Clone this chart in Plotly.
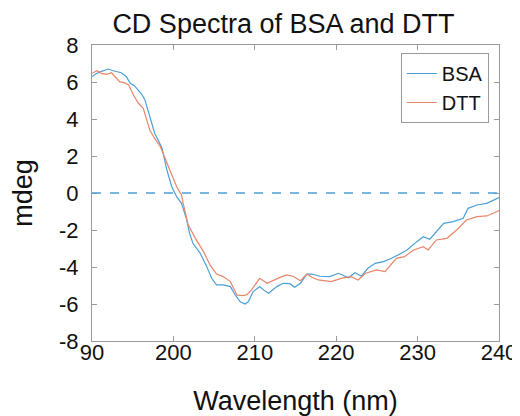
import plotly.graph_objects as go

bsa_wl = [190.0, 190.5, 191.0, 191.5, 192.0, 192.5, 193.0, 193.6, 194.2, 194.7, 195.2, 195.7,
          196.1, 196.5, 197.1, 197.7, 198.2, 198.6, 199.2, 199.8, 200.4, 201.0, 201.6, 202.0,
          202.4, 203.3, 204.1, 204.7, 205.3, 206.1, 207.0, 207.6, 208.2, 208.8, 209.2, 209.8,
          210.6, 211.1, 211.7, 212.2, 212.7, 213.5, 214.3, 214.9, 215.6, 216.4, 217.0, 218.0,
          219.2, 220.3, 221.5, 222.3, 223.1, 223.9, 224.8, 225.8, 226.6, 227.6, 228.7, 229.9,
          230.7, 231.5, 232.3, 233.2, 234.4, 235.6, 236.2, 237.3, 238.5, 239.7, 240.0]
bsa_mdeg = [6.29, 6.45, 6.55, 6.62, 6.70, 6.62, 6.58, 6.50, 6.30, 5.93, 5.80, 5.57,
            5.35, 5.03, 4.12, 3.23, 2.80, 2.42, 1.24, 0.34, -0.20, -0.56, -1.40, -2.20,
            -2.72, -3.26, -3.98, -4.61, -4.97, -4.97, -5.06, -5.51, -5.88, -6.00, -5.88, -5.33,
            -5.06, -5.25, -5.42, -5.25, -5.06, -4.88, -4.90, -5.10, -4.88, -4.38, -4.38, -4.50,
            -4.52, -4.34, -4.58, -4.31, -4.50, -4.07, -3.80, -3.71, -3.57, -3.35, -3.08, -2.63,
            -2.36, -2.50, -2.09, -1.64, -1.55, -1.37, -0.83, -0.65, -0.56, -0.29, -0.25]

dtt_wl = [190.0, 190.6, 191.2, 191.8, 192.4, 193.0, 193.4, 194.0, 194.5, 195.1, 195.7, 196.3,
          196.7, 197.1, 197.7, 198.4, 199.4, 200.4, 201.0, 201.2, 201.8, 202.7, 203.7, 204.5,
          205.3, 206.1, 207.0, 207.8, 208.4, 209.0, 209.6, 210.6, 211.5, 212.3, 213.1, 213.9,
          214.7, 215.6, 216.4, 217.0, 217.8, 219.4, 220.7, 221.8, 222.7, 223.6, 225.0, 226.0,
          227.4, 228.4, 229.5, 230.7, 231.3, 232.3, 233.6, 234.8, 236.0, 237.3, 238.5, 239.7, 240.0]
dtt_mdeg = [6.47, 6.61, 6.45, 6.41, 6.50, 6.20, 6.02, 5.95, 5.84, 5.30, 4.85, 4.58,
            4.05, 3.40, 2.95, 2.50, 1.42, 0.34, -0.10, -0.56, -1.70, -2.45, -3.17, -3.89,
            -4.38, -4.52, -4.79, -5.51, -5.55, -5.51, -5.24, -4.61, -4.88, -4.70, -4.56, -4.43,
            -4.50, -4.74, -4.38, -4.55, -4.70, -4.79, -4.60, -4.52, -4.70, -4.34, -4.16, -4.25,
            -3.53, -3.44, -3.08, -2.90, -3.08, -2.54, -2.45, -2.00, -1.46, -1.28, -1.24, -1.01, -0.95]

x_ticks = [190, 200, 210, 220, 230, 240]
x_tick_labels = ["90", "200", "210", "220", "230", "240"]
y_ticks = [-8, -6, -4, -2, 0, 2, 4, 6, 8]
y_tick_labels = ["-8", "-6", "-4", "-2", "0", "2", "4", "6", "8"]

blue = "#4a9fd8"
orange = "#e8866a"
FONT = "Liberation Sans, Arial, sans-serif"

fig = go.Figure()
fig.add_trace(go.Scatter(x=bsa_wl, y=bsa_mdeg, mode="lines", name="BSA",
                         line=dict(color=blue, width=1.2)))
fig.add_trace(go.Scatter(x=dtt_wl, y=dtt_mdeg, mode="lines", name="DTT",
                         line=dict(color=orange, width=1.2)))
fig.add_hline(y=0, line=dict(color=blue, width=1.3, dash="dash"))

axis_common = dict(showgrid=False, zeroline=False, showline=True, mirror="ticks",
                   linecolor="#9a9a9a", linewidth=1, ticks="inside", ticklen=5,
                   tickcolor="#9a9a9a", automargin=False,
                   tickfont=dict(family=FONT, size=22, color="#111"))

fig.update_layout(
    width=512, height=408,
    margin=dict(l=84, r=21, t=37, b=75),
    paper_bgcolor="white", plot_bgcolor="white",
    title=dict(text="CD Spectra of BSA and DTT", x=0.538, xanchor="center", y=1.0,
               yref="paper", yanchor="bottom", pad=dict(b=12),
               font=dict(family=FONT, size=27, color="#111")),
    xaxis=dict(range=[190, 240], tickvals=x_ticks, ticktext=x_tick_labels,
               ticklabelstandoff=-8,
               title=dict(text="Wavelength (nm)", font=dict(family=FONT, size=27, color="#111"),
                          standoff=28),
               **axis_common),
    yaxis=dict(range=[-8, 8], tickvals=y_ticks, ticktext=y_tick_labels,
               ticklabelstandoff=8,
               title=dict(text="mdeg", font=dict(family=FONT, size=27, color="#111"),
                          standoff=18),
               **axis_common),
    legend=dict(x=0.975, y=0.973, xanchor="right", yanchor="top",
                bgcolor="white", bordercolor="#9a9a9a", borderwidth=1,
                font=dict(family=FONT, size=20, color="#111"),
                tracegroupgap=0),
    showlegend=True,
)

fig.write_html("out.html")
